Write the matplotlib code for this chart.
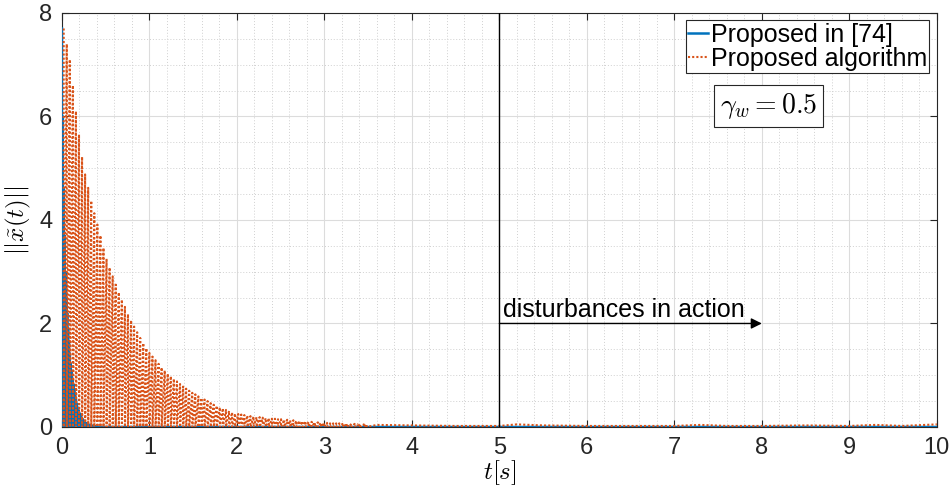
import numpy as np
import matplotlib
matplotlib.use('Agg')
import matplotlib.pyplot as plt
from matplotlib.ticker import MultipleLocator

plt.rcParams['font.family'] = ['Liberation Sans', 'DejaVu Sans']
plt.rcParams['mathtext.fontset'] = 'cm'

# ---- data ----------------------------------------------------------------
# Proposed in [74]: fast oscillating decay, peaks every 0.01 s
blue_t0, blue_dt = 0.0, 0.01
blue_peaks = [7.7, 6.0, 4.6, 3.7, 3.0, 2.5, 2.2, 1.9, 1.65, 1.42, 1.23,
              1.07, 0.94, 0.83, 0.72, 0.62, 0.53, 0.45, 0.38, 0.32, 0.27,
              0.23, 0.20, 0.17, 0.14, 0.12, 0.10, 0.08, 0.07, 0.06, 0.05,
              0.04, 0.04, 0.03, 0.03, 0.02, 0.02, 0.02, 0.01, 0.01, 0.01]
blue_tail_t = [0.5, 10.0]
blue_tail_y = [0.0, 0.0]

# Proposed algorithm: oscillating decay, peaks every 0.035 s
orange_t0, orange_dt = 0.02, 0.035
orange_peaks = [7.70, 7.40, 7.10, 6.60, 6.10, 5.65, 5.22, 4.88, 4.62, 4.37,
                4.13, 3.91, 3.70, 3.46, 3.25, 3.08, 2.91, 2.75, 2.60, 2.46,
                2.32, 2.18, 2.06, 1.94, 1.83, 1.72, 1.62, 1.52, 1.43, 1.36,
                1.29, 1.22, 1.15, 1.09, 1.03, 0.98, 0.93, 0.88, 0.83, 0.78,
                0.74, 0.70, 0.66, 0.63, 0.59, 0.56, 0.53, 0.50, 0.46, 0.43,
                0.41, 0.38, 0.36, 0.33, 0.31, 0.28, 0.26, 0.25, 0.24, 0.23,
                0.22, 0.21, 0.20, 0.19, 0.19, 0.18, 0.17, 0.17, 0.16, 0.16,
                0.15, 0.15, 0.14, 0.14, 0.13, 0.13, 0.12, 0.12, 0.11, 0.11,
                0.10, 0.10, 0.09, 0.09, 0.08, 0.08, 0.08, 0.07, 0.07, 0.07,
                0.07, 0.06, 0.06, 0.06, 0.06, 0.06, 0.05, 0.05, 0.05, 0.05]
orange_tail_t = [3.6, 4.0, 4.5, 5.0, 5.2, 5.5, 6.0, 6.5, 7.0, 7.3, 7.6,
                 8.0, 8.5, 9.0, 9.3, 9.6, 10.0]
orange_tail_y = [0.04, 0.03, 0.02, 0.02, 0.05, 0.03, 0.02, 0.02, 0.02, 0.04,
                 0.02, 0.02, 0.03, 0.02, 0.04, 0.02, 0.05]

dist_start, dist_end, dist_level = 5, 8, 2
gamma_text = r'$\gamma_w = 0.5$'


def zigzag(t0, dt, peaks, tail_t, tail_y):
    # each peak drawn as an up/down stroke back to zero
    peaks = np.asarray(peaks)
    t = t0 + dt * np.arange(len(peaks))
    x = np.repeat(t, 2)
    y = np.column_stack([peaks, np.zeros_like(peaks)]).ravel()
    return np.r_[x, tail_t], np.r_[y, tail_y]


fig = plt.figure(figsize=(9.53, 4.98), dpi=100)
ax = fig.add_axes([0.065, 0.1426, 0.918, 0.8314])

xb, yb = zigzag(blue_t0, blue_dt, blue_peaks, blue_tail_t, blue_tail_y)
xo, yo = zigzag(orange_t0, orange_dt, orange_peaks, orange_tail_t, orange_tail_y)

ax.plot(xb, yb, color='#0072BD', lw=1.8, label='Proposed in [74]', zorder=3)
ax.plot(xo, yo, color='#D95319', lw=1.5, ls=(0, (1, 1)),
        label='Proposed algorithm', zorder=4)

ax.set_xlim(0, 10)
ax.set_ylim(0, 8)
ax.xaxis.set_major_locator(MultipleLocator(1))
ax.yaxis.set_major_locator(MultipleLocator(2))
ax.xaxis.set_minor_locator(MultipleLocator(0.2))
ax.yaxis.set_minor_locator(MultipleLocator(0.5))
ax.grid(which='major', color='#dcdcdc', lw=0.8, ls='-')
ax.grid(which='minor', color='#d0d0d0', lw=0.7, ls=(0, (1, 2)))
ax.set_axisbelow(True)
ax.tick_params(which='major', direction='in', length=5, top=True, right=True,
               labelsize=17, color='#262626', labelcolor='#262626', pad=7)
ax.tick_params(which='minor', length=0)
for sp in ax.spines.values():
    sp.set_color('#262626')
    sp.set_linewidth(0.8)

ax.set_xlabel(r'$t[s]$', fontsize=18, labelpad=0)
ax.set_ylabel(r'$||\tilde{x}(t)||$', fontsize=18, labelpad=4)

# disturbance marker
ax.axvline(dist_start, color='black', lw=1.0, zorder=5)
ax.annotate('', xy=(dist_end, dist_level), xytext=(dist_start, dist_level),
            arrowprops=dict(arrowstyle='-|>', color='black', lw=1.0,
                            mutation_scale=16, shrinkA=0, shrinkB=0), zorder=5)
ax.text(dist_start + 0.04, dist_level + 0.02, 'disturbances in action',
        fontsize=18, va='bottom', ha='left')

leg = ax.legend(loc='upper right', fontsize=18, frameon=True, fancybox=False,
                handlelength=0.8, handletextpad=0.1, borderpad=0.1,
                labelspacing=0.0, borderaxespad=0.3, edgecolor='#262626',
                framealpha=1)
leg.get_frame().set_linewidth(0.8)

ax.text(0.752, 0.776, gamma_text, transform=ax.transAxes, fontsize=20,
        ha='left', va='center',
        bbox=dict(boxstyle='square,pad=0.22', fc='white', ec='#262626', lw=0.8))

fig.savefig('out.png', dpi=100)
